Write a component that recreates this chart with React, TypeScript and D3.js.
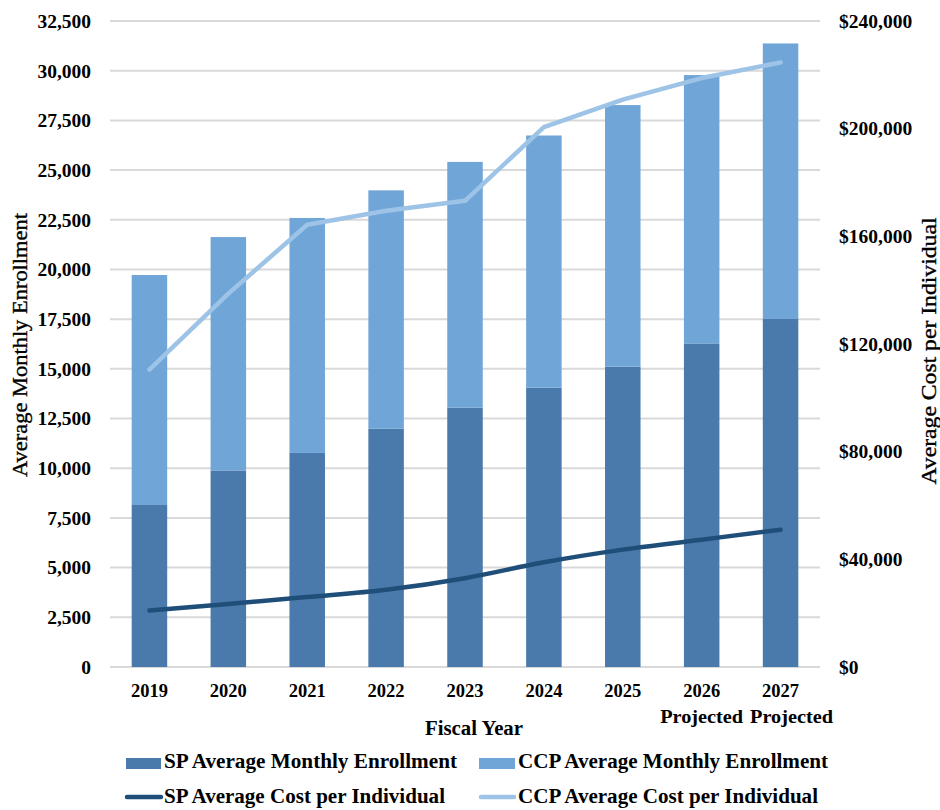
import React from "react";
import * as d3 from "d3";

const years = ["2019", "2020", "2021", "2022", "2023", "2024", "2025", "2026", "2027"];
const subLabels = ["", "", "", "", "", "", "", "Projected", "Projected"];
const spEnrollment = [8150, 9890, 10770, 11990, 13050, 14050, 15110, 16280, 17510];
const ccpEnrollment = [11570, 11740, 11820, 11990, 12360, 12690, 13160, 13500, 13860];
const spCost = [21000, 23400, 26000, 28700, 33000, 38900, 43600, 47300, 51000];
const ccpCost = [110500, 138700, 164300, 169500, 173200, 200600, 210800, 218800, 224600];
const leftTicks = [0, 2500, 5000, 7500, 10000, 12500, 15000, 17500, 20000, 22500, 25000, 27500, 30000, 32500];
const rightTicks = [0, 40000, 80000, 120000, 160000, 200000, 240000];

const W = 940;
const H = 810;
const left = 110;
const right = 820;
const top = 21;
const bottom = 667;

const FONT = "'Liberation Serif', 'DejaVu Serif', serif";
const C_SP = "#4a7aab";
const C_CCP = "#70a5d8";
const C_SPL = "#1f4e79";
const C_CCPL = "#9dc3e6";

export default function App() {
  const x = d3.scaleBand<string>().domain(years).range([left, right]).paddingInner(0.55).paddingOuter(0.275);
  const yL = d3.scaleLinear().domain([0, 32500]).range([bottom, top]);
  const yR = d3.scaleLinear().domain([0, 240000]).range([bottom, top]);
  const fmt = d3.format(",");
  const cx = (d: string) => (x(d) as number) + x.bandwidth() / 2;

  const spLine = d3
    .line<number>()
    .x((_, i) => cx(years[i]))
    .y((v) => yR(v))
    .curve(d3.curveMonotoneX);
  const ccpLine = d3
    .line<number>()
    .x((_, i) => cx(years[i]))
    .y((v) => yR(v))
    .curve(d3.curveLinear);

  const legendText = (xx: number, yy: number, len: number, s: string) => (
    <text x={xx} y={yy} fontFamily={FONT} fontWeight="bold" fontSize={20} fill="#000" textLength={len} lengthAdjust="spacingAndGlyphs">
      {s}
    </text>
  );

  return (
    <svg width={W} height={H} style={{ position: "absolute", left: 0, top: 0, background: "#fff" }}>
      <rect x={0} y={0} width={W} height={H} fill="#fff" />
      {leftTicks.map((t) => (
        <line key={"g" + t} x1={left} x2={right} y1={yL(t)} y2={yL(t)} stroke="#d9d9d9" strokeWidth={2} />
      ))}
      {years.map((yr, i) => (
        <g key={"b" + yr}>
          <rect
            x={x(yr)}
            width={x.bandwidth()}
            y={yL(spEnrollment[i])}
            height={bottom - yL(spEnrollment[i])}
            fill={C_SP}
          />
          <rect
            x={x(yr)}
            width={x.bandwidth()}
            y={yL(spEnrollment[i] + ccpEnrollment[i])}
            height={yL(spEnrollment[i]) - yL(spEnrollment[i] + ccpEnrollment[i])}
            fill={C_CCP}
          />
        </g>
      ))}
      <path d={ccpLine(ccpCost) || ""} fill="none" stroke={C_CCPL} strokeWidth={4.5} strokeLinecap="round" strokeLinejoin="round" />
      <path d={spLine(spCost) || ""} fill="none" stroke={C_SPL} strokeWidth={4.5} strokeLinecap="round" strokeLinejoin="round" />

      {leftTicks.map((t) => (
        <text key={"l" + t} x={91} y={yL(t)} dy="0.35em" textAnchor="end" fontFamily={FONT} fontWeight="bold" fontSize={19.5} fill="#000">
          {fmt(t)}
        </text>
      ))}
      {rightTicks.map((t) => (
        <text key={"r" + t} x={839} y={yR(t)} dy="0.35em" textAnchor="start" fontFamily={FONT} fontWeight="bold" fontSize={19.5} fill="#000">
          {"$" + fmt(t)}
        </text>
      ))}
      {years.map((yr, i) => (
        <g key={"xl" + yr}>
          <text x={cx(yr)} y={697} textAnchor="middle" fontFamily={FONT} fontWeight="bold" fontSize={18.5} fill="#000">
            {yr}
          </text>
          {subLabels[i] && (
            <text
              x={cx(yr) + (i === years.length - 1 ? 11 : 0)}
              y={723}
              textAnchor="middle"
              fontFamily={FONT}
              fontWeight="bold"
              fontSize={19.5}
              fill="#000"
              textLength={83}
              lengthAdjust="spacingAndGlyphs"
            >
              {subLabels[i]}
            </text>
          )}
        </g>
      ))}
      <text x={474} y={735} textAnchor="middle" fontFamily={FONT} fontWeight="bold" fontSize={20} fill="#000" textLength={98} lengthAdjust="spacingAndGlyphs">
        Fiscal Year
      </text>
      <text
        transform={`translate(27,345) rotate(-90)`}
        textAnchor="middle"
        fontFamily={FONT}
        fontSize={21}
        fill="#000"
        textLength={264}
        lengthAdjust="spacingAndGlyphs"
        stroke="#000"
        strokeWidth={0.35}
      >
        Average Monthly Enrollment
      </text>
      <text
        transform={`translate(936,351) rotate(-90)`}
        textAnchor="middle"
        fontFamily={FONT}
        fontSize={21}
        fill="#000"
        textLength={267}
        lengthAdjust="spacingAndGlyphs"
        stroke="#000"
        strokeWidth={0.35}
      >
        Average Cost per Individual
      </text>

      {/* legend */}
      <rect x={126} y={758} width={35} height={11} fill={C_SP} />
      {legendText(164, 768, 293, "SP Average Monthly Enrollment")}
      <rect x={479} y={758} width={36} height={11} fill={C_CCP} />
      {legendText(518, 768, 310, "CCP Average Monthly Enrollment")}
      <line x1={127} x2={161} y1={797} y2={797} stroke={C_SPL} strokeWidth={4.5} strokeLinecap="round" />
      {legendText(164, 803, 281, "SP Average Cost per Individual")}
      <line x1={481} x2={514} y1={797} y2={797} stroke={C_CCPL} strokeWidth={4.5} strokeLinecap="round" />
      {legendText(518, 803, 300, "CCP Average Cost per Individual")}
    </svg>
  );
}
